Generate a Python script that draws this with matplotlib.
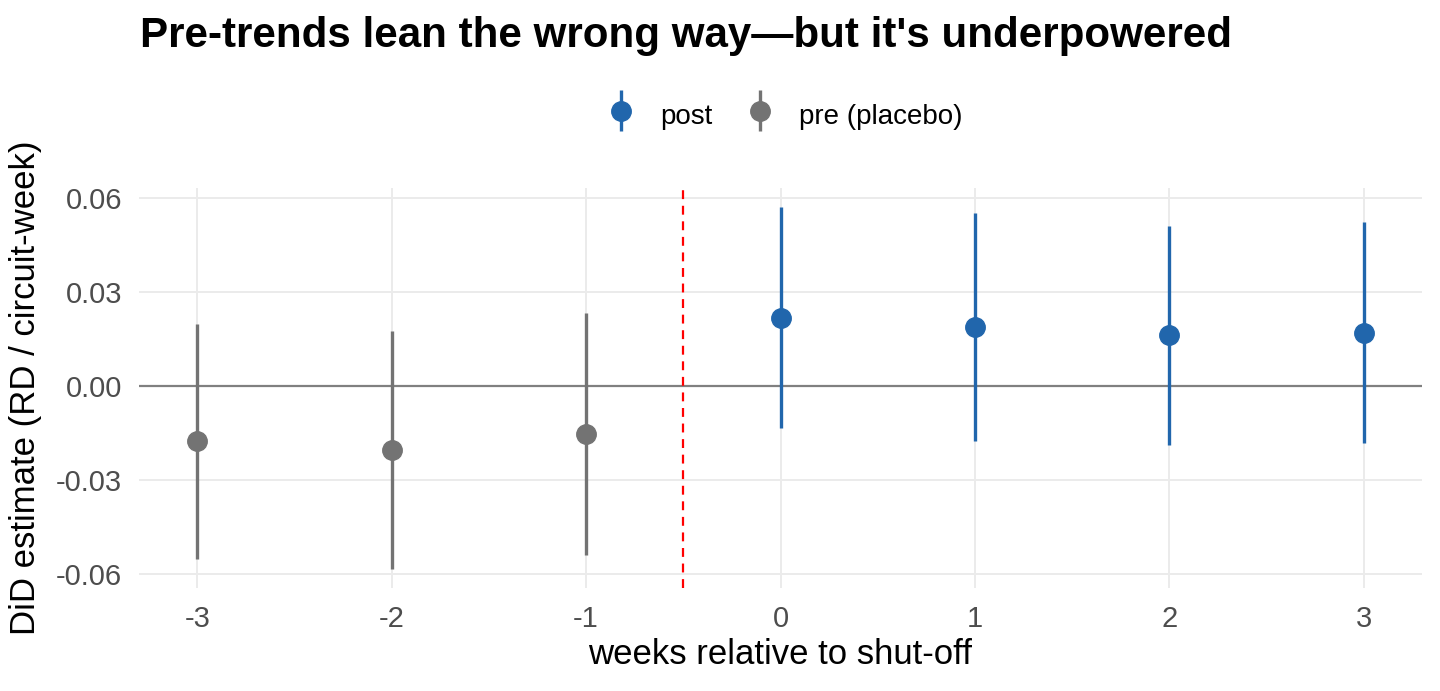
import matplotlib
matplotlib.use("Agg")
import matplotlib.pyplot as plt
from matplotlib.legend_handler import HandlerErrorbar

plt.rcParams["font.family"] = ["Liberation Sans", "DejaVu Sans"]

# event-time estimates
pre_weeks = [-3, -2, -1]
pre_est = [-0.0175, -0.0204, -0.0154]
pre_lo = [-0.0552, -0.0583, -0.0539]
pre_hi = [0.0197, 0.0175, 0.0232]

post_weeks = [0, 1, 2, 3]
post_est = [0.0217, 0.0188, 0.0163, 0.0170]
post_lo = [-0.0134, -0.0176, -0.0189, -0.0182]
post_hi = [0.0570, 0.0551, 0.0510, 0.0523]

x_ticks = [-3, -2, -1, 0, 1, 2, 3]
y_ticks = [-0.06, -0.03, 0.00, 0.03, 0.06]
y_labels = ["-0.06", "-0.03", "0.00", "0.03", "0.06"]

BLUE = "#2166AC"
GREY = "#737373"

fig = plt.figure(figsize=(14.4, 6.91), dpi=100)
ax = fig.add_axes([139 / 1440, 1 - 588 / 691, 1283 / 1440, 400 / 691])

ax.axhline(0, color="#808080", lw=1.6, zorder=1)
ax.axvline(-0.5, color="red", lw=1.6, ls=(0, (4, 3)), zorder=1)


def pointrange(x, est, lo, hi, color, label):
    yerr = [[e - l for e, l in zip(est, lo)], [h - e for e, h in zip(est, hi)]]
    return ax.errorbar(x, est, yerr=yerr, fmt="o", color=color, ecolor=color,
                       elinewidth=2.4, markersize=14, capsize=0, label=label,
                       zorder=3)


h_post = pointrange(post_weeks, post_est, post_lo, post_hi, BLUE, "post")
h_pre = pointrange(pre_weeks, pre_est, pre_lo, pre_hi, GREY, "pre (placebo)")

ax.set_xlim(-3.3, 3.3)
ax.set_ylim(-0.0644, 0.0631)
ax.set_xticks(x_ticks)
ax.set_xticklabels([str(v) for v in x_ticks])
ax.set_yticks(y_ticks)
ax.set_yticklabels(y_labels)

ax.grid(True, color="#EBEBEB", lw=1.4)
ax.set_axisbelow(True)
for s in ax.spines.values():
    s.set_visible(False)
ax.tick_params(length=0, labelsize=21, labelcolor="#4D4D4D", pad=12)

ax.set_xlabel("weeks relative to shut-off", fontsize=25, labelpad=4)
ax.set_ylabel("DiD estimate (RD / circuit-week)", fontsize=25, labelpad=10)

fig.text(140 / 1440, 1 - 36 / 691,
         "Pre-trends lean the wrong way\u2014but it's underpowered",
         fontsize=30.3, fontweight="bold", ha="left", va="center")

fig.legend(handles=[h_post, h_pre], loc="center", bbox_to_anchor=(0.545, 1 - 115 / 691),
           ncol=2, frameon=False, fontsize=20, handletextpad=0.9,
           columnspacing=1.2, handlelength=1.0, handleheight=1.6,
           handler_map={h_post: HandlerErrorbar(yerr_size=0.75),
                        h_pre: HandlerErrorbar(yerr_size=0.75)})

fig.savefig("out.png", dpi=100)
